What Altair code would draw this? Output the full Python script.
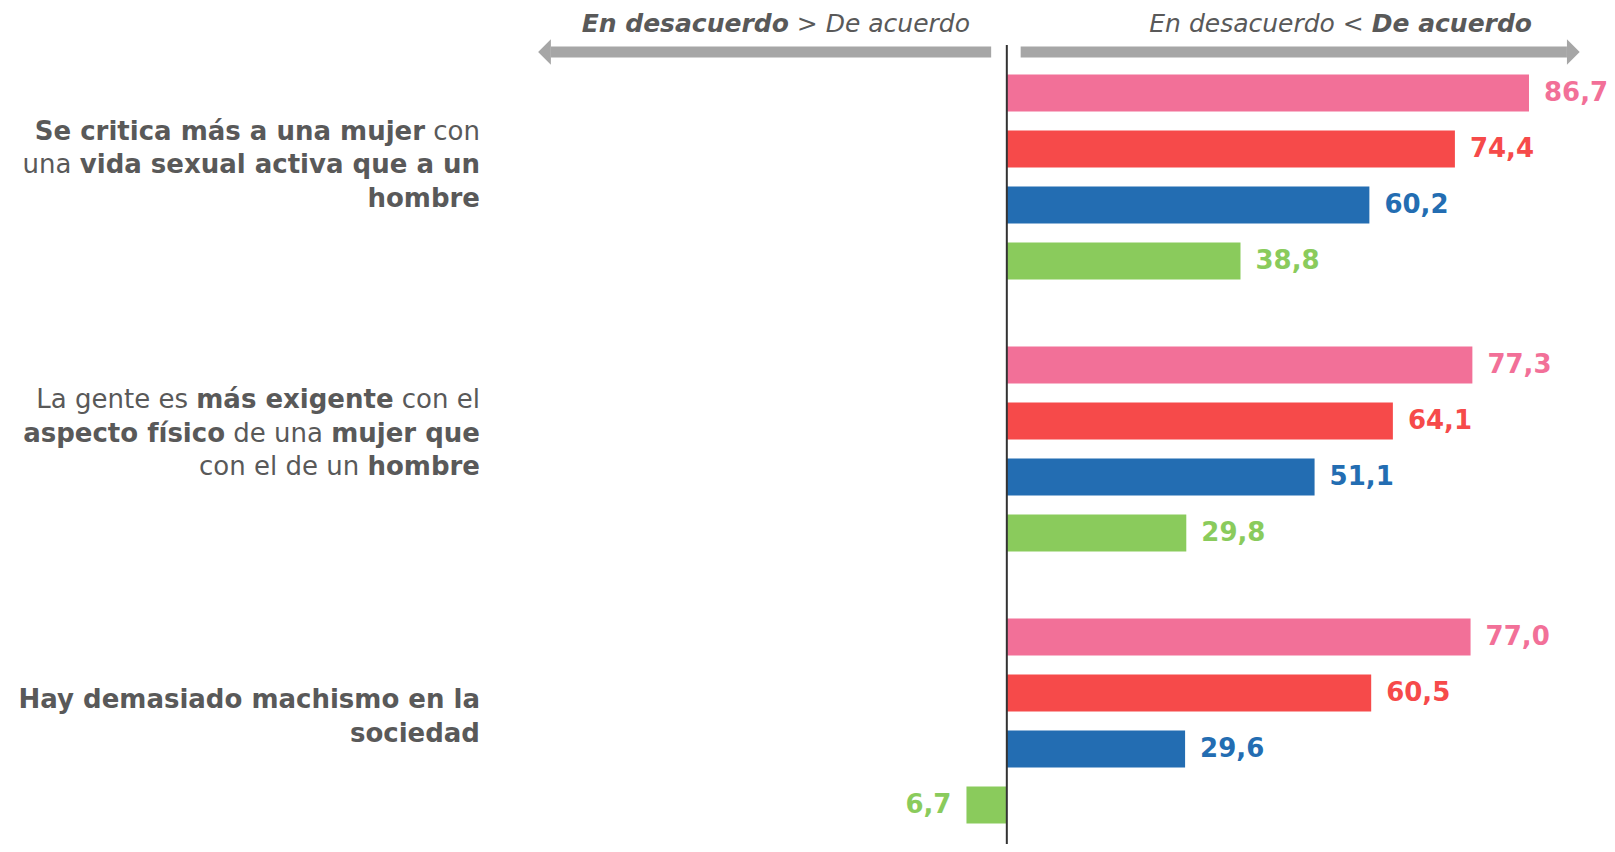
import os
import struct
import pandas as pd
import altair as alt

# ---------------- data ----------------
CATEGORIES = [
    "Se critica más a una mujer con una vida sexual activa que a un hombre",
    "La gente es más exigente con el aspecto físico de una mujer que con el de un hombre",
    "Hay demasiado machismo en la sociedad",
]
SERIES = ["Serie 1", "Serie 2", "Serie 3", "Serie 4"]
VALUES_S1 = [86.7, 77.3, 77.0]
VALUES_S2 = [74.4, 64.1, 60.5]
VALUES_S3 = [60.2, 51.1, 29.6]
VALUES_S4 = [38.8, 29.8, -6.7]
COLORS = ["#F27098", "#F64A4A", "#236DB2", "#8ACB5C"]

# category labels with mixed weights: (text, "b" bold / "r" regular)
LABEL_LINES = [
    [[("Se critica más a una mujer", "b"), (" con", "r")],
     [("una ", "r"), ("vida sexual activa que a un", "b")],
     [("hombre", "b")]],
    [[("La gente es ", "r"), ("más exigente", "b"), (" con el", "r")],
     [("aspecto físico", "b"), (" de una ", "r"), ("mujer que", "b")],
     [("con el de un ", "r"), ("hombre", "b")]],
    [[("Hay demasiado machismo en la", "b")],
     [("sociedad", "b")]],
]
HEADER_LEFT = [("En desacuerdo", "b"), (" > De acuerdo", "r")]
HEADER_RIGHT = [("En desacuerdo < ", "r"), ("De acuerdo", "b")]

# ---------------- layout ----------------
FONT = "DejaVu Sans"
GRAY = "#595959"
ARROW = "#A6A6A6"
W, H = 1060, 768
PAD = {"left": 517, "top": 57, "right": 22, "bottom": 11}
X_DOMAIN = [-80, 96]
GROUP_STEP = 272
GROUP_BAND = 224
LABEL_SIZE = 26
HEADER_SIZE = 25
LINE_H = 33.5
LABEL_RIGHT = -45
LABEL_SHIFT = [-12, -15.5, -4]
HEADER_Y = -41.5
HEADER_LEFT_RIGHT = 445
HEADER_RIGHT_RIGHT = 1007
ARROW_Y = -13
ZERO_TOP = -20
LEFT_ARROW = (-2.6, -75.7)
RIGHT_ARROW = (2.3, 93.0)

# ---------------- text measurement ----------------
def find_font(name):
    roots = ["/usr/share/fonts", "/usr/local/share/fonts",
             os.path.expanduser("~/.fonts"), os.path.expanduser("~/.local/share/fonts")]
    for root in roots:
        if os.path.isdir(root):
            for dp, dn, fn in os.walk(root):
                if name in fn:
                    return os.path.join(dp, name)
    return None


def load_metrics(path):
    with open(path, "rb") as f:
        data = f.read()
    num = struct.unpack(">H", data[4:6])[0]
    tables = {}
    for i in range(num):
        tag, cs, off, ln = struct.unpack(">4sIII", data[12 + 16 * i:28 + 16 * i])
        tables[tag.decode("latin1")] = off
    head = tables["head"]
    upem = struct.unpack(">H", data[head + 18:head + 20])[0]
    hhea = tables["hhea"]
    nhm = struct.unpack(">H", data[hhea + 34:hhea + 36])[0]
    hmtx = tables["hmtx"]
    adv = [struct.unpack(">H", data[hmtx + 4 * i:hmtx + 4 * i + 2])[0] for i in range(nhm)]
    cmap = tables["cmap"]
    n = struct.unpack(">H", data[cmap + 2:cmap + 4])[0]
    sub = None
    for i in range(n):
        pid, eid, off = struct.unpack(">HHI", data[cmap + 4 + 8 * i:cmap + 12 + 8 * i])
        fmt = struct.unpack(">H", data[cmap + off:cmap + off + 2])[0]
        if fmt == 4 and pid in (0, 3):
            sub = cmap + off
            break
    segx2 = struct.unpack(">H", data[sub + 6:sub + 8])[0]
    seg = segx2 // 2
    ends = struct.unpack(">%dH" % seg, data[sub + 14:sub + 14 + segx2])
    starts = struct.unpack(">%dH" % seg, data[sub + 16 + segx2:sub + 16 + 2 * segx2])
    deltas = struct.unpack(">%dh" % seg, data[sub + 16 + 2 * segx2:sub + 16 + 3 * segx2])
    rpos = sub + 16 + 3 * segx2
    roffs = struct.unpack(">%dH" % seg, data[rpos:rpos + segx2])

    def gid(c):
        for i in range(seg):
            if ends[i] >= c:
                if starts[i] > c:
                    return 0
                if roffs[i] == 0:
                    return (c + deltas[i]) & 0xFFFF
                p = rpos + 2 * i + roffs[i] + 2 * (c - starts[i])
                g = struct.unpack(">H", data[p:p + 2])[0]
                return (g + deltas[i]) & 0xFFFF if g else 0
        return 0

    def width(s, size):
        tot = 0
        for ch in s:
            g = gid(ord(ch))
            tot += adv[min(g, nhm - 1)]
        return tot * size / upem
    return width


REG_EM = {" ": .318, "a": .613, "b": .635, "c": .550, "d": .635, "e": .615, "f": .352,
          "g": .635, "h": .634, "i": .278, "j": .278, "k": .579, "l": .278, "m": .974,
          "n": .634, "o": .612, "p": .635, "q": .635, "r": .411, "s": .521, "t": .392,
          "u": .634, "v": .592, "w": .818, "x": .592, "y": .592, "z": .525, "á": .613,
          "í": .278, "L": .557, "S": .635, "H": .752, "E": .632, "D": .770, "<": .838, ">": .838}
BOLD_EM = {" ": .348, "a": .675, "b": .716, "c": .593, "d": .716, "e": .678, "f": .435,
           "g": .716, "h": .712, "i": .343, "j": .343, "k": .665, "l": .343, "m": 1.042,
           "n": .712, "o": .687, "p": .716, "q": .716, "r": .493, "s": .595, "t": .478,
           "u": .712, "v": .651, "w": .890, "x": .649, "y": .651, "z": .582, "á": .675,
           "í": .343, "L": .637, "S": .722, "H": .837, "E": .683, "D": .830, "<": .838, ">": .838}


def fallback(table, default):
    def width(s, size):
        return sum(table.get(ch, default) for ch in s) * size
    return width


def get_measure(fname, table, default):
    try:
        p = find_font(fname)
        if p:
            return load_metrics(p)
    except Exception:
        pass
    return fallback(table, default)


MEASURE = {
    ("r", "normal"): get_measure("DejaVuSans.ttf", REG_EM, .6),
    ("b", "normal"): get_measure("DejaVuSans-Bold.ttf", BOLD_EM, .68),
    ("r", "italic"): get_measure("DejaVuSans-Oblique.ttf", REG_EM, .6),
    ("b", "italic"): get_measure("DejaVuSans-BoldOblique.ttf", BOLD_EM, .68),
}


def place_line(segments, right, y, size, style, rows):
    cursor = right
    for text, w in reversed(segments):
        m = MEASURE[(w, style)]
        trail = len(text) - len(text.rstrip(" "))
        vis_right = cursor - m(" " * trail, size)
        if text.strip():
            rows.append({"px": vis_right, "py": y, "text": text.strip(),
                         "w": w, "st": style, "size": size})
        cursor -= m(text, size)


rows = []
for g, lines in enumerate(LABEL_LINES):
    center = g * GROUP_STEP + GROUP_BAND / 2 + LABEL_SHIFT[g]
    n = len(lines)
    for i, segs in enumerate(lines):
        y = center + (i - (n - 1) / 2) * LINE_H
        place_line(segs, LABEL_RIGHT, y, LABEL_SIZE, "normal", rows)
place_line(HEADER_LEFT, HEADER_LEFT_RIGHT, HEADER_Y, HEADER_SIZE, "italic", rows)
place_line(HEADER_RIGHT, HEADER_RIGHT_RIGHT, HEADER_Y, HEADER_SIZE, "italic", rows)
seg_df = pd.DataFrame(rows)

# ---------------- bar table ----------------
all_vals = [VALUES_S1, VALUES_S2, VALUES_S3, VALUES_S4]
bar_rows = []
for s, vals in zip(SERIES, all_vals):
    for c, v in zip(CATEGORIES, vals):
        bar_rows.append({"cat": c, "series": s, "value": v,
                         "label": f"{abs(v):.1f}".replace(".", ",")})
bars_df = pd.DataFrame(bar_rows)

xscale = alt.Scale(domain=X_DOMAIN, nice=False)
base = alt.Chart(bars_df).encode(
    y=alt.Y("cat:N", sort=CATEGORIES, axis=None,
            scale=alt.Scale(paddingInner=(GROUP_STEP - GROUP_BAND) / GROUP_STEP, paddingOuter=0)),
    yOffset=alt.YOffset("series:N", sort=SERIES,
                        scale=alt.Scale(paddingInner=0.34, paddingOuter=0.17)),
    x=alt.X("value:Q", axis=None, scale=xscale, stack=False),
    color=alt.Color("series:N", scale=alt.Scale(domain=SERIES, range=COLORS), legend=None),
)
bars = base.mark_bar()
pos_text = base.transform_filter("datum.value >= 0").mark_text(
    align="left", baseline="middle", dx=15, fontSize=LABEL_SIZE, fontWeight="bold", font=FONT
).encode(text="label:N")
neg_text = base.transform_filter("datum.value < 0").mark_text(
    align="right", baseline="middle", dx=-15, fontSize=LABEL_SIZE, fontWeight="bold", font=FONT
).encode(text="label:N")

zero_rule = alt.Chart(pd.DataFrame({"value": [0]})).mark_rule(
    color="#333333", strokeWidth=2
).encode(x=alt.X("value:Q", axis=None, scale=xscale), y=alt.value(ZERO_TOP), y2=alt.value(H + PAD["bottom"]))

arrow_df = pd.DataFrame({"x": [LEFT_ARROW[0], RIGHT_ARROW[0]],
                         "x2": [LEFT_ARROW[1], RIGHT_ARROW[1]]})
shafts = alt.Chart(arrow_df).mark_rule(color=ARROW, strokeWidth=11).encode(
    x=alt.X("x:Q", axis=None, scale=xscale), x2="x2:Q", y=alt.value(ARROW_Y))
head_l = alt.Chart(pd.DataFrame({"x": [LEFT_ARROW[1]]})).mark_point(
    shape="M0,-1L-1,0L0,1Z", size=650, filled=True, opacity=1, color=ARROW, strokeWidth=0
).encode(x=alt.X("x:Q", axis=None, scale=xscale), y=alt.value(ARROW_Y))
head_r = alt.Chart(pd.DataFrame({"x": [RIGHT_ARROW[1]]})).mark_point(
    shape="M0,-1L1,0L0,1Z", size=650, filled=True, opacity=1, color=ARROW, strokeWidth=0
).encode(x=alt.X("x:Q", axis=None, scale=xscale), y=alt.value(ARROW_Y))

main = alt.layer(bars, pos_text, neg_text, zero_rule, shafts, head_l, head_r)

px_x = alt.X("px:Q", axis=None, scale=alt.Scale(domain=[0, W], range=[0, W], nice=False, zero=False))
px_y = alt.Y("py:Q", axis=None, scale=alt.Scale(domain=[0, H], range=[0, H], nice=False, zero=False))

text_layers = []
for (w, st) in [("b", "normal"), ("r", "normal"), ("b", "italic"), ("r", "italic")]:
    sub = seg_df[(seg_df["w"] == w) & (seg_df["st"] == st)]
    if len(sub) == 0:
        continue
    size = float(sub["size"].iloc[0])
    text_layers.append(
        alt.Chart(sub).mark_text(
            align="right", baseline="middle", fontSize=size, font=FONT,
            fontWeight="bold" if w == "b" else "normal", fontStyle=st, color=GRAY
        ).encode(x=px_x, y=px_y, text="text:N")
    )
labels = alt.layer(*text_layers)

chart = alt.layer(main, labels).resolve_scale(x="independent", y="independent").properties(
    width=W, height=H, padding=PAD, autosize=alt.AutoSizeParams(type="none"),
    background="white",
).configure(font=FONT).configure_view(strokeWidth=0, stroke="transparent")

chart.save("out.html", embed_options={"renderer": "svg", "actions": False})
